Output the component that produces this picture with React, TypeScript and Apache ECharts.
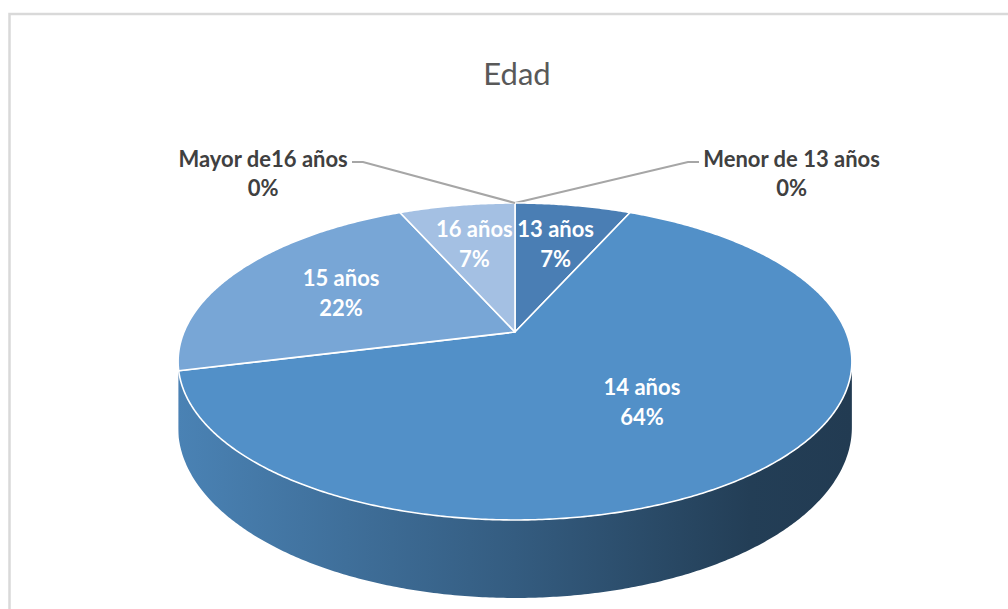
import React, { useEffect, useRef } from "react";
import * as echarts from "echarts";

const TITLE = "Edad";
const CATEGORIES = ["Menor de 13 años", "13 años", "14 años", "15 años", "16 años", "Mayor de16 años"];
const COUNTS = [0, 3, 29, 10, 3, 0];
const COLORS = ["#3f6fa0", "#4a7eb4", "#5290c8", "#78a6d6", "#a4c0e3", "#c0d3ec"];

// layout of the 3D pie (projected disc)
const CX = 515;
const CY = 332;
const RX = 331;
const RY = 153;
const PERSP = 0.186;
const DEPTH = 63.5;
const START_ANGLE = 90;
const FONT = "Lato, 'Noto Sans', sans-serif";

const rad = (d: number) => (d * Math.PI) / 180;

function proj(deg: number, f = 1): [number, number] {
  const s = Math.sin(rad(deg));
  const c = Math.cos(rad(deg));
  const d = 1 + PERSP * f * s;
  return [CX + (f * RX * c) / d, CY - (f * RY * s) / d];
}
function projBottom(deg: number): [number, number] {
  const [x, y] = proj(deg);
  const s = Math.sin(rad(deg));
  return [x, y + DEPTH / (1 + PERSP * s)];
}
function arcPoints(from: number, to: number, fn: (d: number) => [number, number]) {
  const pts: [number, number][] = [];
  const n = Math.max(2, Math.ceil(Math.abs(from - to) / 0.5));
  for (let i = 0; i <= n; i++) pts.push(fn(from + ((to - from) * i) / n));
  return pts;
}

const total = COUNTS.reduce((a, b) => a + b, 0);
const slices = (() => {
  let cur = START_ANGLE;
  return COUNTS.map((v) => {
    const sweep = (v / total) * 360;
    const s = cur;
    const e = cur - sweep;
    cur = e;
    return { start: s, end: e, pct: Math.round((v / total) * 100) };
  });
})();

const VIS_LO = 180 + (Math.asin(PERSP) * 180) / Math.PI;
const VIS_HI = 360 - (Math.asin(PERSP) * 180) / Math.PI;

function sideRanges(s: number, e: number) {
  const out: [number, number][] = [];
  for (let k = -2; k <= 1; k++) {
    const lo = Math.max(e, VIS_LO + 360 * k);
    const hi = Math.min(s, VIS_HI + 360 * k);
    if (hi > lo) out.push([lo, hi]);
  }
  return out;
}

function shade(hex: string, k: number) {
  const n = parseInt(hex.slice(1), 16);
  const r = Math.round(((n >> 16) & 255) * k);
  const g = Math.round(((n >> 8) & 255) * k);
  const b = Math.round((n & 255) * k);
  return `rgb(${r},${g},${b})`;
}

function sideFill(color: string) {
  const [x0] = proj(VIS_LO);
  const [x1] = proj(VIS_HI);
  return {
    type: "linear",
    x: x0,
    y: 0,
    x2: x1,
    y2: 0,
    global: true,
    colorStops: [
      { offset: 0, color: shade(color, 0.9) },
      { offset: 0.5, color: shade(color, 0.64) },
      { offset: 0.85, color: shade(color, 0.43) },
      { offset: 1, color: shade(color, 0.41) },
    ],
  };
}

function labelRadius(sweepDeg: number) {
  const a = rad(sweepDeg / 2);
  const f = (2 / 3) * (Math.sin(a) / a);
  return Math.min(0.7, Math.max(0.55, f));
}

function measure(text: string, font: string) {
  const t = new echarts.graphic.Text({ style: { text, font } });
  return t.getBoundingRect().width;
}

export default function App() {
  const ref = useRef<HTMLDivElement>(null);
  useEffect(() => {
    document.body.style.margin = "0";
    const chart = echarts.init(ref.current!, null, { renderer: "svg" });
    const labelFont = `bold 22px ${FONT}`;

    const renderSide = (params: any) => {
      const i = params.dataIndex;
      const sl = slices[i];
      if (COUNTS[i] <= 0) return { type: "group", children: [] };
      const children = sideRanges(sl.start, sl.end).map(([lo, hi]) => ({
        type: "polygon",
        shape: { points: [...arcPoints(lo, hi, proj), ...arcPoints(hi, lo, projBottom)] },
        style: { fill: sideFill(COLORS[i]), stroke: null },
      }));
      return { type: "group", children };
    };

    const renderTop = (params: any) => {
      const i = params.dataIndex;
      const sl = slices[i];
      const children: any[] = [];
      const text = `${CATEGORIES[i]}\n${sl.pct}%`;
      if (COUNTS[i] > 0) {
        children.push({
          type: "polygon",
          shape: { points: [[CX, CY], ...arcPoints(sl.start, sl.end, proj)] },
          style: { fill: COLORS[i], stroke: "#ffffff", lineWidth: 1.6, lineJoin: "round" },
        });
        const mid = (sl.start + sl.end) / 2;
        const [lx, ly] = proj(mid, labelRadius(sl.start - sl.end));
        children.push({
          type: "text",
          z2: 10,
          style: {
            text,
            x: lx,
            y: ly,
            fill: "#ffffff",
            font: labelFont,
            lineHeight: 30,
            align: "center",
            verticalAlign: "middle",
          },
        });
      } else {
        const [px, py] = proj(sl.start);
        const right = i < COUNTS.length / 2;
        const dir = right ? 1 : -1;
        const elbow: [number, number] = [px + dir * (right ? 173 : 152), py - 41];
        const tail: [number, number] = [elbow[0] + dir * 11, elbow[1]];
        const w = measure(CATEGORIES[i], labelFont);
        children.push({
          type: "polyline",
          shape: { points: [[px, py], elbow, tail] },
          style: { stroke: "#a6a6a6", lineWidth: 2, fill: null },
        });
        children.push({
          type: "text",
          z2: 10,
          style: {
            text,
            x: tail[0] + dir * (4 + w / 2),
            y: tail[1] + 11,
            fill: "#404040",
            font: labelFont,
            lineHeight: 29,
            align: "center",
            verticalAlign: "middle",
          },
        });
      }
      return { type: "group", children };
    };

    const data = COUNTS.map((v, i) => ({ name: CATEGORIES[i], value: v }));

    chart.setOption({
      animation: false,
      tooltip: { show: false },
      graphic: [
        {
          type: "rect",
          silent: true,
          shape: { x: 9.5, y: 14, width: 1010, height: 610 },
          style: { fill: "#ffffff", stroke: "#d9d9d9", lineWidth: 2.5 },
          z: -10,
        },
        {
          type: "text",
          x: 517,
          y: 73,
          style: {
            text: TITLE,
            font: `31px ${FONT}`,
            fill: "#595959",
            align: "center",
            verticalAlign: "middle",
          },
        },
      ],
      series: [
        { type: "custom", coordinateSystem: "none", renderItem: renderSide, data, silent: true, z: 1 },
        { type: "custom", coordinateSystem: "none", renderItem: renderTop, data, silent: true, z: 2 },
      ],
    });
    return () => chart.dispose();
  }, []);
  return <div ref={ref} style={{ width: 1008, height: 609 }} />;
}
